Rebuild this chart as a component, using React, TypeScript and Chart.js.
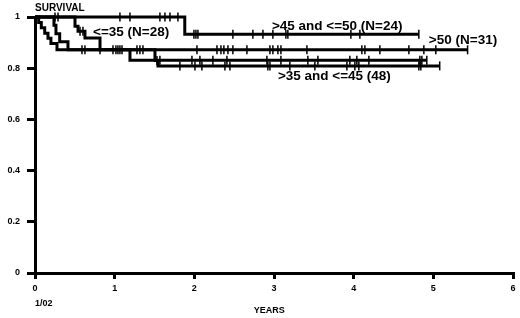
import React, { useEffect, useRef } from "react";
import { Chart, registerables } from "chart.js";
Chart.register(...registerables);

// Axis ticks
const xTickValues = [0, 1, 2, 3, 4, 5, 6];
const yTickValues = [0, 0.2, 0.4, 0.6, 0.8, 1];
const yTickLabels = ["0", "0.2", "0.4", "0.6", "0.8", "1"];

// >45 and <=50 (N=24)
const g4550Times = [0, 1.88, 4.82];
const g4550Surv = [1, 0.933, 0.933];
const g4550Censor = [0.251, 0.289, 1.066, 1.192, 1.568, 1.631, 1.694, 1.794, 1.995, 2.02, 2.045, 2.484, 2.735, 2.861, 2.986, 3.149, 3.174, 3.965, 4.078, 4.818];

// >50 (N=31)
const g50Times = [0, 0.238, 0.263, 0.31, 0.414, 5.43];
const g50Surv = [1, 0.968, 0.935, 0.903, 0.872, 0.872];
const g50Censor = [0.816, 0.979, 1.016, 1.28, 1.317, 1.355, 2.033, 2.284, 2.334, 2.371, 2.422, 2.484, 2.66, 2.949, 2.986, 3.049, 3.087, 3.413, 4.103, 4.141, 4.329, 4.693, 4.881, 5.031, 5.43];

// <=35 (N=28)
const g35Times = [0, 0.502, 0.54, 0.627, 0.816, 1.192, 4.92];
const g35Surv = [1, 0.964, 0.944, 0.918, 0.872, 0.831, 0.831];
const g35Censor = [0.565, 0.602, 1.041, 1.066, 1.092, 1.568, 1.97, 2.07, 2.233, 2.409, 2.911, 3.087, 3.425, 3.551, 3.952, 4.04, 4.191, 4.831, 4.856, 4.918];

// >35 and <=45 (48)
const g3545Times = [0, 0.046, 0.079, 0.122, 0.163, 0.2, 0.276, 1.506, 1.543, 5.08];
const g3545Surv = [1, 0.979, 0.958, 0.937, 0.917, 0.896, 0.872, 0.83, 0.809, 0.809];
const g3545Censor = [0.59, 0.627, 1.531, 1.819, 2.008, 2.095, 2.384, 2.447, 2.923, 2.949, 3.199, 3.513, 3.915, 4.015, 4.065, 4.818, 4.843, 5.08];

// Curve labels (anchored in data space: left edge, vertical centre)
const curveLabels = ["<=35 (N=28)", ">45 and <=50 (N=24)", ">50 (N=31)", ">35 and <=45 (48)"];
const curveLabelX = [0.728, 2.974, 4.944, 3.049];
const curveLabelY = [0.939, 0.963, 0.908, 0.767];

const FONT = '"Liberation Sans", Arial, sans-serif';

function survAt(times: number[], surv: number[], t: number): number {
  let s = surv[0];
  for (let i = 0; i < times.length; i++) {
    if (times[i] <= t + 1e-9) s = surv[i];
  }
  return s;
}

function curveDataset(times: number[], surv: number[]) {
  return {
    type: "line" as const,
    data: times.map((t, i) => ({ x: t, y: surv[i] })),
    borderColor: "#000",
    borderWidth: 3,
    stepped: "before" as const,
    pointRadius: 0,
    fill: false,
    clip: false as const,
  };
}

function censorDataset(times: number[], surv: number[], censor: number[]) {
  return {
    type: "scatter" as const,
    data: censor.map((t) => ({ x: t, y: survAt(times, surv, t) })),
    showLine: false,
    pointStyle: "line" as const,
    rotation: 90,
    pointRadius: 4.5,
    borderWidth: 1.5,
    borderColor: "#000",
    backgroundColor: "#000",
    clip: false as const,
  };
}

const textPlugin = {
  id: "kmTexts",
  afterDraw(chart: any) {
    const { ctx } = chart;
    const x = chart.scales.x;
    const y = chart.scales.y;
    ctx.save();
    ctx.fillStyle = "#000";
    ctx.textBaseline = "middle";
    ctx.textAlign = "left";
    ctx.font = `bold 13.5px ${FONT}`;
    curveLabels.forEach((t, i) => {
      ctx.fillText(t, x.getPixelForValue(curveLabelX[i]), y.getPixelForValue(curveLabelY[i]));
    });
    ctx.font = `bold 10px ${FONT}`;
    ctx.fillText("SURVIVAL", x.getPixelForValue(0), y.getPixelForValue(1.033));
    ctx.font = `bold 9px ${FONT}`;
    ctx.fillText("1/02", x.getPixelForValue(0), x.bottom - 14);
    ctx.textAlign = "center";
    ctx.fillText("YEARS", x.getPixelForValue(2.94), x.bottom - 7);
    ctx.restore();
  },
};

export default function App() {
  const canvasRef = useRef<HTMLCanvasElement | null>(null);

  useEffect(() => {
    document.body.style.margin = "0";
    const canvas = canvasRef.current;
    if (!canvas) return;
    const chart = new Chart(canvas, {
      type: "line",
      data: {
        datasets: [
          curveDataset(g4550Times, g4550Surv),
          curveDataset(g50Times, g50Surv),
          curveDataset(g35Times, g35Surv),
          curveDataset(g3545Times, g3545Surv),
          censorDataset(g4550Times, g4550Surv, g4550Censor),
          censorDataset(g50Times, g50Surv, g50Censor),
          censorDataset(g35Times, g35Surv, g35Censor),
          censorDataset(g3545Times, g3545Surv, g3545Censor),
        ] as any,
      },
      options: {
        animation: false,
        responsive: false,
        devicePixelRatio: 1,
        layout: { padding: { top: 17, right: 7, left: 0, bottom: 0 } },
        plugins: { legend: { display: false }, tooltip: { enabled: false } },
        events: [],
        scales: {
          x: {
            type: "linear",
            min: 0,
            max: 6,
            afterFit: (s: any) => { s.height = 45; },
            afterBuildTicks: (s: any) => { s.ticks = xTickValues.map((v) => ({ value: v })); },
            ticks: {
              color: "#000",
              font: { family: FONT, size: 9, weight: "bold" },
              padding: 4,
              maxRotation: 0,
              callback: (v: any) => String(v),
            },
            grid: {
              drawOnChartArea: false,
              drawTicks: true,
              tickLength: 6,
              tickColor: "#000",
              lineWidth: 3,
            },
            border: { display: true, color: "#000", width: 3 },
          },
          y: {
            type: "linear",
            min: 0,
            max: 1,
            afterFit: (s: any) => { s.width = 35; },
            afterBuildTicks: (s: any) => { s.ticks = yTickValues.map((v) => ({ value: v })); },
            ticks: {
              color: "#000",
              font: { family: FONT, size: 9, weight: "bold" },
              padding: 7,
              callback: (_v: any, i: number) => yTickLabels[i],
            },
            grid: {
              drawOnChartArea: false,
              drawTicks: true,
              tickLength: 8,
              tickColor: "#000",
              lineWidth: 3,
            },
            border: { display: true, color: "#000", width: 3 },
          },
        },
      } as any,
      plugins: [textPlugin],
    });
    return () => chart.destroy();
  }, []);

  return (
    <div style={{ width: 520, height: 318, background: "#fff" }}>
      <canvas ref={canvasRef} width={520} height={318} />
    </div>
  );
}
